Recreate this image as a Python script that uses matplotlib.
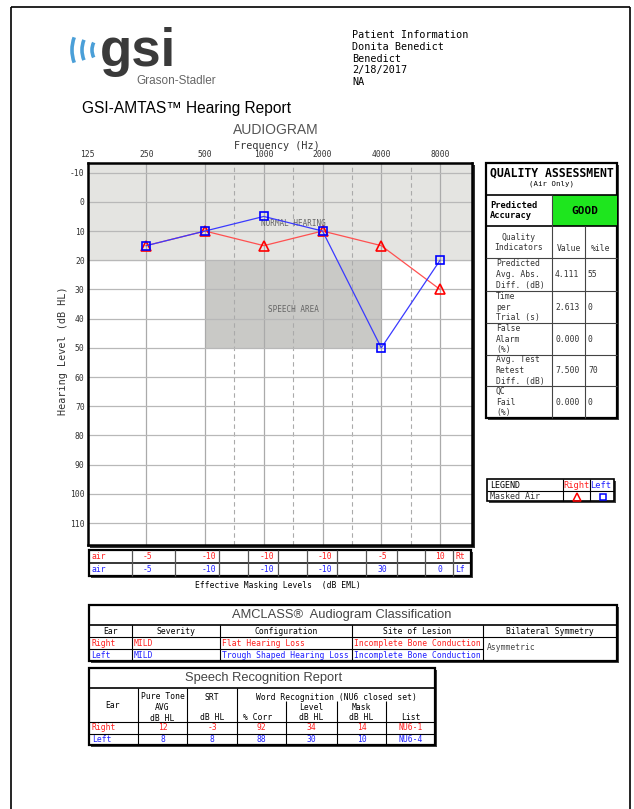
import matplotlib.pyplot as plt
from matplotlib.patches import Rectangle, Arc
from matplotlib.ticker import NullLocator

W, H = 634, 809

# audiogram thresholds (dB HL), masked air conduction
freqs = [250, 500, 1000, 2000, 4000, 8000]
right_air = [15, 10, 15, 10, 15, 30]
left_air = [15, 10, 5, 10, 50, 20]
freq_ticks = [125, 250, 500, 1000, 2000, 4000, 8000]
db_ticks = list(range(-10, 120, 10))
half_octaves = [707, 1414, 2828, 5657]

# effective masking levels (dB EML)
mask_right = ['-5', '-10', '-10', '-10', '-5', '10']
mask_left = ['-5', '-10', '-10', '-10', '30', '0']

patient_info = ['Patient Information', 'Donita Benedict', 'Benedict', '2/18/2017', 'NA']

qa_labels = ['Predicted\nAvg. Abs.\nDiff. (dB)', 'Time\nper\nTrial (s)',
             'False\nAlarm\n(%)', 'Avg. Test\nRetest\nDiff. (dB)', 'QC\nFail\n(%)']
qa_values = ['4.111', '2.613', '0.000', '7.500', '0.000']
qa_pctile = ['55', '0', '0', '70', '0']

amclass_cols = ['Ear', 'Severity', 'Configuration', 'Site of Lesion', 'Bilateral Symmetry']
amclass_right = ['Right', 'MILD', 'Flat Hearing Loss', 'Incomplete Bone Conduction']
amclass_left = ['Left', 'MILD', 'Trough Shaped Hearing Loss', 'Incomplete Bone Conduction']
amclass_symmetry = 'Asymmetric'

sr_right = ['12', '-3', '92', '34', '14', 'NU6-1']
sr_left = ['8', '8', '88', '30', '10', 'NU6-4']

RED = '#ff2020'
BLUE = '#2020ff'
SANS = 'Liberation Sans'
plt.rcParams['font.family'] = 'DejaVu Sans Mono'

fig = plt.figure(figsize=(W / 100, H / 100), dpi=100)
ov = fig.add_axes([0, 0, 1, 1])
ov.set_xlim(0, W)
ov.set_ylim(H, 0)
ov.axis('off')


def line(x0, y0, x1, y1, lw=0.7, c='black', **kw):
    ov.plot([x0, x1], [y0, y1], color=c, lw=lw, solid_capstyle='butt', **kw)


def box(x0, y0, x1, y1, lw=1.6):
    ov.add_patch(Rectangle((x0 + 2, y0 + 2), x1 - x0, y1 - y0, fc='#444444', ec='none'))
    ov.add_patch(Rectangle((x0, y0), x1 - x0, y1 - y0, fc='white', ec='black', lw=lw))


def txt(x, y, s, size=5.8, c='black', ha='left', va='center', **kw):
    ov.text(x, y, s, fontsize=size, color=c, ha=ha, va=va, **kw)


# page border
line(11, 7, 630, 7, lw=1.2)
line(11, 7, 11, H, lw=1.2)
line(630, 7, 630, H, lw=1.2)

# logo + header
for r, half in [(17, 26), (27, 22), (37, 20)]:
    ov.add_patch(Arc((109, 50), 2 * r, 2 * r, theta1=180 - half, theta2=180 + half,
                     color='#4a9fd8', lw=2.6))
txt(100, 65.5, 'gsi', size=38, c='#3a3a3a', family=SANS, weight='bold', va='baseline')
txt(136, 81, 'Grason-Stadler', size=8.5, c='#666666', family=SANS)
txt(82, 108, 'GSI-AMTAS\u2122 Hearing Report', size=11.2, family=SANS)
for i, s in enumerate(patient_info):
    txt(352, 35 + 11.8 * i, s, size=7.3)

# audiogram titles
txt(276, 130, 'AUDIOGRAM', size=10, c='#555555', ha='center', family=SANS)
txt(277, 146, 'Frequency (Hz)', size=7.3, c='#333333', ha='center')
txt(63, 351, 'Hearing Level (dB HL)', size=7.3, c='#333333', ha='center', rotation=90)

# audiogram frame shadow
ov.add_patch(Rectangle((90, 165), 385, 383, fc='#333333', ec='none'))

ax = fig.add_axes([87.5 / W, 1 - 545 / H, (472 - 87.5) / W, (545 - 163) / H])
ax.set_xscale('log', base=2)
ax.set_xlim(125, 11663)
ax.set_ylim(117.5, -13.3)
ax.axhspan(-20, 20, color='#e4e4e1', zorder=0)
ax.add_patch(Rectangle((500, 20), 3500, 30, fc='#c9c9c6', ec='none', zorder=0.5))
for f in freqs:
    ax.axvline(f, color='#aaaaaa', lw=0.9, zorder=1)
for f in half_octaves:
    ax.axvline(f, color='#aaaaaa', lw=0.8, ls=(0, (4, 3)), zorder=1)
for d in db_ticks:
    ax.axhline(d, color='#b8b8b8', lw=0.9, zorder=1)
ax.text(1414, 7.5, 'NORMAL HEARING', ha='center', va='center', fontsize=5.5,
        color='#666666', zorder=1.5)
ax.text(1414, 37, 'SPEECH AREA', ha='center', va='center', fontsize=5.5,
        color='#666666', zorder=1.5)
ax.plot(freqs, right_air, color='#ff5050', lw=0.9, zorder=3,
        marker='^', ms=7, mfc='none', mec='#ff0000', mew=1.2)
ax.plot(freqs, left_air, color='#3a3aff', lw=0.9, zorder=3,
        marker='s', ms=5.5, mfc='none', mec='#0000ff', mew=1.2)
ax.set_xticks(freq_ticks)
ax.set_xticklabels([str(f) for f in freq_ticks])
ax.xaxis.set_minor_locator(NullLocator())
ax.xaxis.tick_top()
ax.set_yticks(db_ticks)
ax.set_yticklabels([str(d) for d in db_ticks])
ax.tick_params(length=0, labelsize=5.8, labelcolor='#333333')
ax.tick_params(axis='x', pad=3)
ax.tick_params(axis='y', pad=2)
for sp in ax.spines.values():
    sp.set_linewidth(1.8)

# effective masking table
box(89, 550, 471, 576)
line(89, 563, 471, 563, lw=1.1)
for x in [132, 175, 219, 248, 278, 307, 337, 366, 397, 425, 453]:
    line(x, 550, x, 576, lw=0.9, c='#555555')
mask_x = [147, 209, 267, 325, 382, 440]
txt(92, 556.5, 'air', c=RED)
txt(92, 569.5, 'air', c=BLUE)
for x, vr, vl in zip(mask_x, mask_right, mask_left):
    txt(x, 556.5, vr, c=RED, ha='center')
    txt(x, 569.5, vl, c=BLUE, ha='center')
txt(455, 556.5, 'Rt', c=RED)
txt(455, 569.5, 'Lf', c=BLUE)
txt(278, 586, 'Effective Masking Levels  (dB EML)', ha='center')

# quality assessment
box(486, 163, 617, 418)
ov.add_patch(Rectangle((552, 195), 65, 31, fc='#1ee61e', ec='none'))
for y in [195, 226]:
    line(486, y, 617, y, lw=1.2)
for y in [258, 291, 323, 355, 386]:
    line(486, y, 617, y, lw=0.8, c='#444444')
line(552, 195, 552, 418, lw=0.8, c='#444444')
line(585, 226, 585, 418, lw=0.8, c='#444444')
txt(551.5, 173, 'QUALITY ASSESSMENT', size=8.3, weight='bold', ha='center')
txt(551.5, 183.5, '(Air Only)', size=5.3, ha='center')
txt(490, 210.5, 'Predicted\nAccuracy', size=6.3, weight='bold', linespacing=1.15)
txt(584.5, 210.5, 'GOOD', size=8, weight='bold', ha='center')
txt(519, 242.5, 'Quality\nIndicators', size=5.8, ha='center', c='#333333', linespacing=1.25)
txt(568.5, 248, 'Value', size=5.8, ha='center', c='#333333')
txt(601, 248, '%ile', size=5.8, ha='center', c='#333333')
row_tops = [258, 291, 323, 355, 386, 418]
for i, (lab, val, pct) in enumerate(zip(qa_labels, qa_values, qa_pctile)):
    yc = (row_tops[i] + row_tops[i + 1]) / 2
    txt(496, yc, lab, size=5.8, c='#333333', linespacing=1.25)
    txt(555, yc, val, size=5.8, c='#333333')
    txt(588, yc, pct, size=5.8, c='#333333')

# legend box
box(487, 479, 614, 501, lw=1.2)
line(487, 491, 614, 491, lw=0.8)
line(563, 479, 563, 501, lw=0.8)
line(590, 479, 590, 501, lw=0.8)
txt(490, 485, 'LEGEND', size=6)
txt(576.5, 485, 'Right', size=6.3, c=RED, ha='center')
txt(601, 485, 'Left', size=6.3, c=BLUE, ha='center')
txt(490, 496.5, 'Masked Air', size=6, c='#333333')
ov.plot([577], [496.5], marker='^', ms=6, mfc='none', mec='#ff0000', mew=1.1)
ov.plot([603], [496.5], marker='s', ms=4.5, mfc='none', mec='#0000ff', mew=1.1)

# AMCLASS table
box(89, 605, 617, 661)
line(89, 625, 617, 625, lw=1.2)
line(89, 637, 617, 637, lw=0.8)
line(89, 649, 483, 649, lw=0.8)
am_edges = [89, 132, 220, 352, 483, 617]
for x in am_edges[1:-1]:
    line(x, 625, x, 661, lw=0.8)
txt(342, 615, 'AMCLASS\u00ae  Audiogram Classification', size=9.3, family=SANS,
    c='#444444', ha='center')
for i, h in enumerate(amclass_cols):
    txt((am_edges[i] + am_edges[i + 1]) / 2, 631, h, ha='center')
for i, (r, l) in enumerate(zip(amclass_right, amclass_left)):
    txt(am_edges[i] + 2, 643, r, c=RED)
    txt(am_edges[i] + 2, 655, l, c=BLUE)
txt(487, 647, amclass_symmetry, c='#444444')

# speech recognition table
box(89, 668, 435, 745)
line(89, 688, 435, 688, lw=1.2)
line(89, 722, 435, 722, lw=0.8)
line(89, 733.5, 435, 733.5, lw=0.8)
sr_edges = [89, 138, 187, 237, 286, 337, 386, 435]
for x in sr_edges[1:4]:
    line(x, 688, x, 745, lw=0.8)
for x in sr_edges[4:7]:
    line(x, 701, x, 745, lw=0.8)
txt(264, 678, 'Speech Recognition Report', size=9.3, family=SANS, c='#444444', ha='center')
txt(113, 705, 'Ear', ha='center')
txt(162.5, 707.5, 'Pure Tone\nAVG\ndB HL', ha='center', linespacing=1.25)
txt(212, 697, 'SRT', ha='center')
txt(212, 718, 'dB HL', ha='center')
txt(336, 697, 'Word Recognition (NU6 closed set)', ha='center')
txt(258, 718, '% Corr', ha='center')
txt(311.5, 712.5, 'Level\ndB HL', ha='center', linespacing=1.25)
txt(361.5, 712.5, 'Mask\ndB HL', ha='center', linespacing=1.25)
txt(410.5, 718, 'List', ha='center')
txt(92, 728, 'Right', c=RED)
txt(92, 739.5, 'Left', c=BLUE)
for i, (r, l) in enumerate(zip(sr_right, sr_left)):
    xc = (sr_edges[i + 1] + sr_edges[i + 2]) / 2
    txt(xc, 728, r, c=RED, ha='center')
    txt(xc, 739.5, l, c=BLUE, ha='center')

fig.savefig('out.png', dpi=100)
